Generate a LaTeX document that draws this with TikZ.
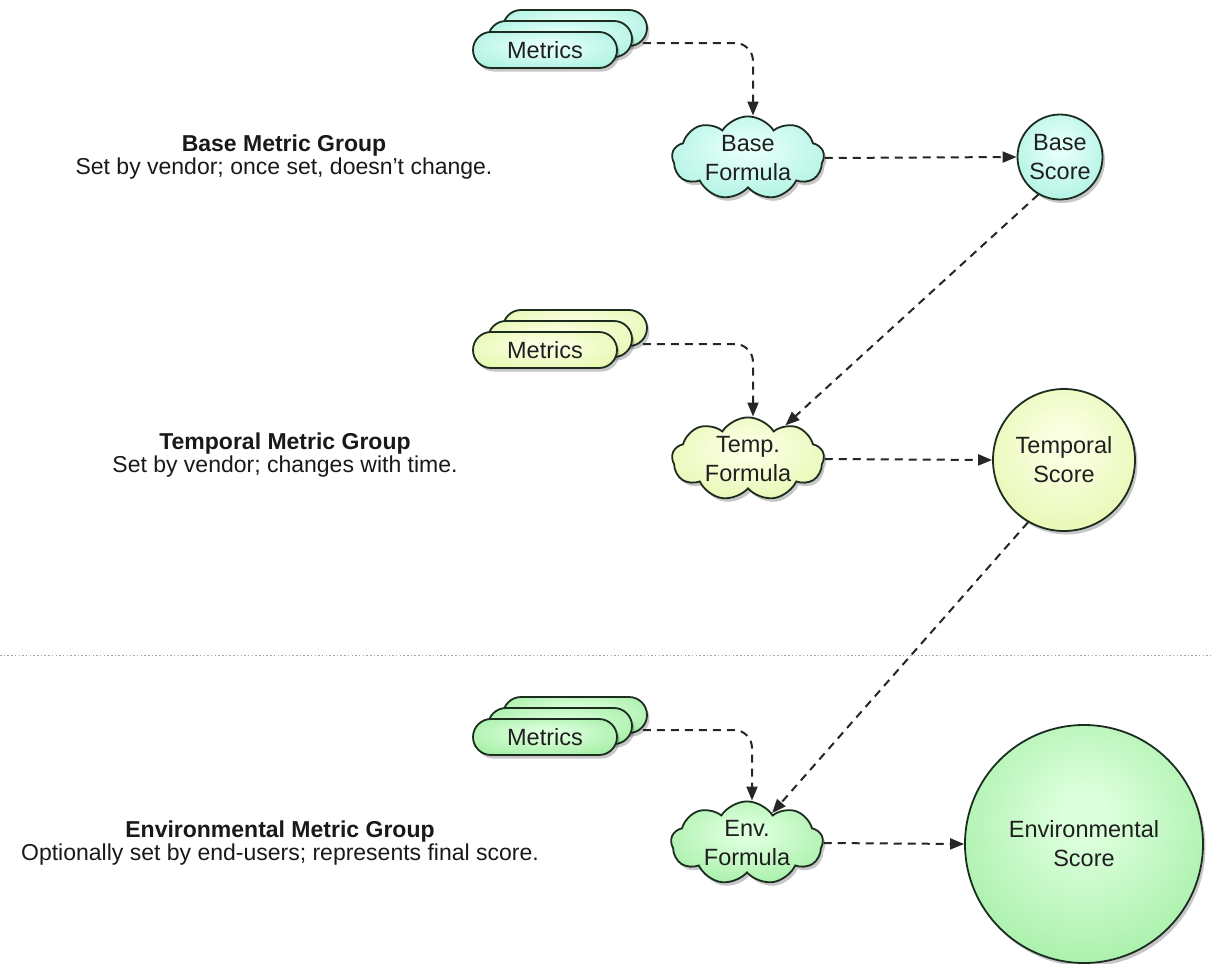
\documentclass[tikz,border=0pt]{standalone}
\usepackage{fontspec}
\setmainfont{Liberation Sans}
\usetikzlibrary{shapes.misc,shapes.symbols,shadows,arrows.meta}
\definecolor{edgecol}{RGB}{28,45,32}
\definecolor{basein}{RGB}{226,255,248}
\definecolor{baseout}{RGB}{145,235,214}
\definecolor{tempin}{RGB}{250,255,226}
\definecolor{tempout}{RGB}{220,243,150}
\definecolor{envin}{RGB}{220,255,220}
\definecolor{envout}{RGB}{134,230,136}
\pgfdeclareradialshading{baseshade}{\pgfpoint{0bp}{6bp}}{color(0bp)=(basein); color(5bp)=(basein); color(48bp)=(baseout); color(100bp)=(baseout)}
\pgfdeclareradialshading{tempshade}{\pgfpoint{0bp}{6bp}}{color(0bp)=(tempin); color(5bp)=(tempin); color(48bp)=(tempout); color(100bp)=(tempout)}
\pgfdeclareradialshading{envshade}{\pgfpoint{0bp}{6bp}}{color(0bp)=(envin); color(5bp)=(envin); color(48bp)=(envout); color(100bp)=(envout)}
\begin{document}
\begin{tikzpicture}[x=1pt,y=1pt,
  txt/.style={font=\fontsize{23.5}{29}\selectfont, text=black!88, align=center},
  grouplabel/.style={font=\fontsize{23}{23.5}\selectfont, text=black!90, align=center},
  shad/.style={drop shadow={shadow xshift=2.5pt, shadow yshift=-3.5pt, opacity=.22, fill=black}},
  pill/.style={rounded rectangle, draw=edgecol, line width=1.8pt, minimum width=144pt, minimum height=36pt, inner sep=0pt, txt, shad},
  formula/.style={cloud, cloud puffs=9, cloud puff arc=115, cloud ignores aspect, draw=edgecol, line width=1.8pt, minimum width=152pt, minimum height=78pt, inner sep=0pt, txt, shad},
  score/.style={circle, draw=edgecol, line width=1.8pt, inner sep=0pt, txt, shad},
  flow/.style={draw=black!85, line width=2pt, dash pattern=on 8pt off 6pt, -{Triangle[length=14pt,width=11pt]}},
  basefill/.style={shading=baseshade},
  tempfill/.style={shading=tempshade},
  envfill/.style={shading=envshade},
]
\useasboundingbox (0,-964) rectangle (1211,0);
\fill[white] (0,-964) rectangle (1211,0);

% separator
\draw[black!35, line width=0.9pt, dash pattern=on 1.5pt off 2.2pt] (0,-655) -- (1211,-655);

% group labels
\node[grouplabel] (gb) at (284,-157) {\textbf{Base Metric Group}\\Set by vendor; once set, doesn't change.};
\node[grouplabel] (gt) at (285,-455) {\textbf{Temporal Metric Group}\\Set by vendor; changes with time.};
\node[grouplabel] (ge) at (280,-843) {\textbf{Environmental Metric Group}\\Optionally set by end-users; represents final score.};

% base row
\node[pill, basefill] (m1c) at (575,-28) {};
\node[pill, basefill] (m1b) at (560,-39) {};
\node[pill, basefill] (m1) at (545,-50) {Metrics};
\node[formula, basefill] (f1) at (748,-158) {Base\\Formula};
\node[score, basefill, minimum size=85pt] (s1) at (1060,-157) {Base\\Score};

% temporal row
\node[pill, tempfill] (m2c) at (575,-328) {};
\node[pill, tempfill] (m2b) at (560,-339) {};
\node[pill, tempfill] (m2) at (545,-350) {Metrics};
\node[formula, tempfill] (f2) at (748,-459) {Temp.\\Formula};
\node[score, tempfill, minimum size=142pt] (s2) at (1064,-460) {Temporal\\Score};

% environmental row
\node[pill, envfill] (m3c) at (575,-715) {};
\node[pill, envfill] (m3b) at (560,-726) {};
\node[pill, envfill] (m3) at (545,-737) {Metrics};
\node[formula, envfill] (f3) at (747,-843) {Env.\\Formula};
\node[score, envfill, minimum size=238pt] (s3) at (1084,-844) {Environmental\\Score};

% connectors
\draw[flow, rounded corners=18pt] ([xshift=10pt,yshift=-4pt]m1b.east) -| ([xshift=5pt]f1.north);
\draw[flow, rounded corners=18pt] ([xshift=10pt,yshift=-5pt]m2b.east) -| ([xshift=5pt]f2.north);
\draw[flow, rounded corners=18pt] ([xshift=10pt,yshift=-4pt]m3b.east) -| ([xshift=5pt]f3.north);

\draw[flow] (f1.east) -- (s1.west);
\draw[flow] (f2.east) -- (s2.west);
\draw[flow] (f3.east) -- (s3.west);

\draw[flow] (s1.240) -- (f2.42);
\draw[flow] (s2.240) -- (f3.50);
\end{tikzpicture}
\end{document}
